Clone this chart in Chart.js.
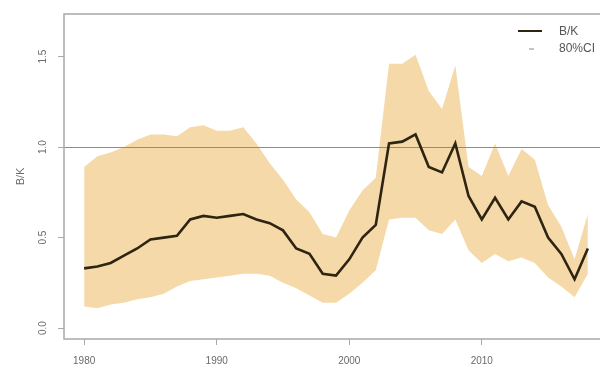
<!DOCTYPE html>
<html>
<head>
<meta charset="utf-8">
<script src="https://cdn.jsdelivr.net/npm/chart.js@4/dist/chart.umd.min.js"></script>
<style>
	html, body { margin: 0; padding: 0; background: #fff; overflow: hidden; }
	#wrap { width: 612px; height: 369px; position: relative; }
</style>
</head>
<body>
<div id="wrap"><canvas id="bkChart"></canvas></div>
<script>
// B/K trajectory with 80% CI
const years = [1980, 1981, 1982, 1983, 1984, 1985, 1986, 1987, 1988, 1989,
	1990, 1991, 1992, 1993, 1994, 1995, 1996, 1997, 1998, 1999,
	2000, 2001, 2002, 2003, 2004, 2005, 2006, 2007, 2008, 2009,
	2010, 2011, 2012, 2013, 2014, 2015, 2016, 2017, 2018];

const bk = [0.33, 0.34, 0.36, 0.40, 0.44, 0.49, 0.50, 0.51, 0.60, 0.62,
	0.61, 0.62, 0.63, 0.60, 0.58, 0.54, 0.44, 0.41, 0.30, 0.29,
	0.38, 0.50, 0.57, 1.02, 1.03, 1.07, 0.89, 0.86, 1.02, 0.73,
	0.60, 0.72, 0.60, 0.70, 0.67, 0.50, 0.41, 0.27, 0.44];

const ciUpper = [0.89, 0.95, 0.97, 1.00, 1.04, 1.07, 1.07, 1.06, 1.11, 1.12,
	1.09, 1.09, 1.11, 1.02, 0.91, 0.82, 0.71, 0.64, 0.52, 0.50,
	0.65, 0.76, 0.83, 1.46, 1.46, 1.51, 1.31, 1.21, 1.45, 0.89,
	0.84, 1.02, 0.84, 0.99, 0.93, 0.68, 0.56, 0.38, 0.63];

const ciLower = [0.12, 0.11, 0.13, 0.14, 0.16, 0.17, 0.19, 0.23, 0.26, 0.27,
	0.28, 0.29, 0.30, 0.30, 0.29, 0.25, 0.22, 0.18, 0.14, 0.14,
	0.19, 0.25, 0.32, 0.60, 0.61, 0.61, 0.54, 0.52, 0.60, 0.43,
	0.36, 0.41, 0.37, 0.39, 0.36, 0.28, 0.23, 0.17, 0.30];

const xTicks = [1980, 1990, 2000, 2010];
const yTicks = [0.0, 0.5, 1.0, 1.5];
const refLevel = 1.0;

const legendLabels = ['B/K', '80%CI'];

const FONT = "'Liberation Sans', Arial, sans-serif";
const AXIS_GREY = '#a8a8a8';
const TEXT_GREY = '#6a6a6a';
const BAND = '#f5d9a9';
const LINE = '#2e2412';

const toPoints = arr => arr.map((v, i) => ({ x: years[i], y: v }));

// box, reference line, rotated y labels and legend (R base-graphics look)
const rStylePlugin = {
	id: 'rStyle',
	afterDatasetDraw(chart, args) {
		if (args.index !== 1) return;
		const { ctx, chartArea, scales } = chart;
		const y = scales.y.getPixelForValue(refLevel);
		ctx.save();
		ctx.strokeStyle = '#8c8c8c';
		ctx.lineWidth = 1;
		ctx.beginPath();
		ctx.moveTo(chartArea.left, Math.round(y) + 0.5);
		ctx.lineTo(chartArea.right, Math.round(y) + 0.5);
		ctx.stroke();
		ctx.restore();
	},
	afterDraw(chart) {
		const { ctx, chartArea, scales } = chart;
		ctx.save();
		// plot frame
		ctx.strokeStyle = AXIS_GREY;
		ctx.lineWidth = 1.5;
		ctx.strokeRect(chartArea.left, chartArea.top, chartArea.right - chartArea.left, chartArea.bottom - chartArea.top);

		// y tick labels, rotated like las=0
		ctx.fillStyle = TEXT_GREY;
		ctx.font = '10px ' + FONT;
		ctx.textAlign = 'center';
		ctx.textBaseline = 'middle';
		scales.y.ticks.forEach(t => {
			const py = scales.y.getPixelForValue(t.value);
			ctx.save();
			ctx.translate(43, py);
			ctx.rotate(-Math.PI / 2);
			ctx.fillText(t.value.toFixed(1), 0, 0);
			ctx.restore();
		});

		// legend
		const lx = 518, ly = 31, row = 17;
		ctx.font = '12px ' + FONT;
		ctx.textAlign = 'left';
		ctx.fillStyle = '#555';
		ctx.strokeStyle = LINE;
		ctx.lineWidth = 2;
		ctx.beginPath();
		ctx.moveTo(lx, ly);
		ctx.lineTo(lx + 24, ly);
		ctx.stroke();
		ctx.fillText(legendLabels[0], lx + 41, ly + 1);
		ctx.strokeStyle = '#c4c4c4';
		ctx.beginPath();
		ctx.moveTo(lx + 11, ly + row + 1);
		ctx.lineTo(lx + 16, ly + row + 1);
		ctx.stroke();
		ctx.fillText(legendLabels[1], lx + 41, ly + row + 1);
		ctx.restore();
	}
};

new Chart(document.getElementById('bkChart').getContext('2d'), {
	type: 'line',
	data: {
		datasets: [
			{
				label: 'lower',
				data: toPoints(ciLower),
				borderWidth: 0,
				pointRadius: 0,
				fill: false,
				order: 2
			},
			{
				label: legendLabels[1],
				data: toPoints(ciUpper),
				borderWidth: 0,
				pointRadius: 0,
				backgroundColor: BAND,
				fill: 0,
				order: 1
			},
			{
				label: legendLabels[0],
				data: toPoints(bk),
				borderColor: LINE,
				borderWidth: 2.6,
				pointRadius: 0,
				fill: false,
				tension: 0,
				order: 0
			}
		]
	},
	options: {
		responsive: true,
		maintainAspectRatio: false,
		animation: false,
		layout: { padding: { top: 14, right: 4, left: 0, bottom: 0 } },
		plugins: {
			legend: { display: false },
			tooltip: { enabled: false }
		},
		scales: {
			x: {
				type: 'linear',
				min: 1978.48,
				max: 2019.52,
				afterBuildTicks: scale => { scale.ticks = xTicks.map(v => ({ value: v })); },
				afterFit: scale => { scale.height = 30; },
				grid: { display: true, drawOnChartArea: false, drawTicks: true, tickLength: 6, color: AXIS_GREY, tickColor: AXIS_GREY },
				border: { display: false },
				ticks: {
					color: TEXT_GREY,
					font: { family: FONT, size: 10 },
					padding: 10,
					maxRotation: 0,
					callback: v => String(v)
				}
			},
			y: {
				type: 'linear',
				min: -0.06,
				max: 1.735,
				afterBuildTicks: scale => { scale.ticks = yTicks.map(v => ({ value: v })); },
				afterFit: scale => { scale.width = 64; },
				grid: { display: true, drawOnChartArea: false, drawTicks: true, tickLength: 6, color: AXIS_GREY, tickColor: AXIS_GREY },
				border: { display: false },
				ticks: { display: false },
				title: {
					display: true,
					text: 'B/K',
					color: TEXT_GREY,
					font: { family: FONT, size: 11 },
					padding: { top: 14, bottom: 0 }
				}
			}
		}
	},
	plugins: [rStylePlugin]
});
</script>
</body>
</html>
